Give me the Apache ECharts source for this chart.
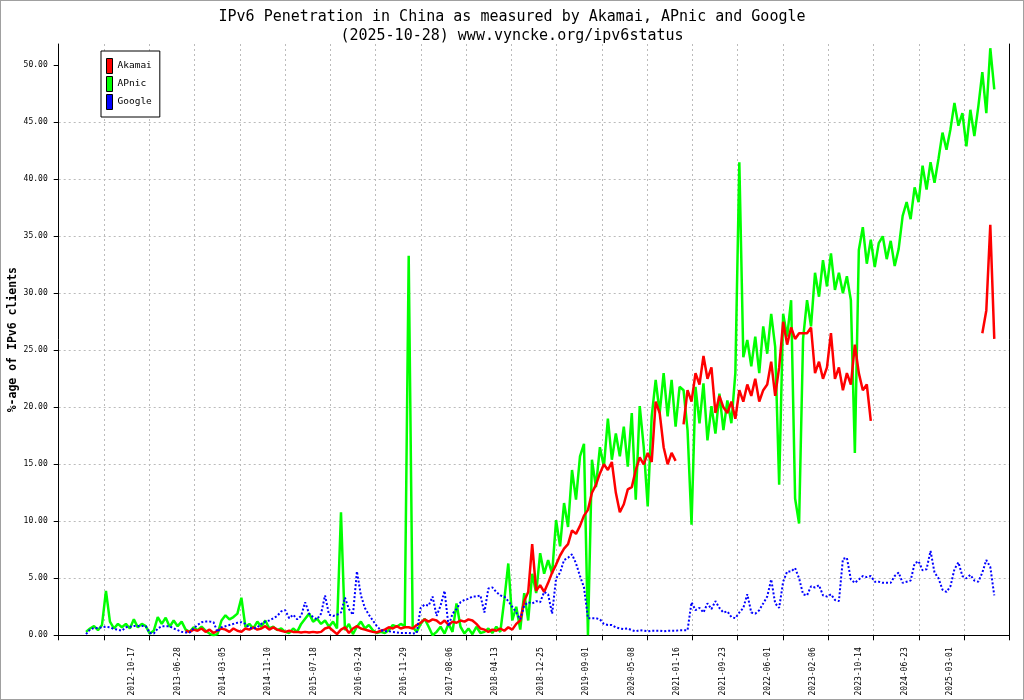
<!DOCTYPE html>
<html>
<head>
<meta charset="utf-8">
<script src="https://cdn.jsdelivr.net/npm/echarts@6/dist/echarts.min.js"></script>
<style>
html, body { margin: 0; padding: 0; background: #ffffff; }
#wrap { position: relative; width: 1024px; height: 700px; }
#chart { width: 1024px; height: 700px; }
#frame { position: absolute; left: 0; top: 0; width: 1024px; height: 700px; box-sizing: border-box; border: 1px solid #a0a0a0; pointer-events: none; }
</style>
</head>
<body>
<div id="wrap"><div id="chart"></div><div id="frame"></div></div>
<script>
// ---------- data ----------
const originDate = '2011-09-09';      // day 0 of the x scale
const xMaxDays = 5250;                // right end of the x scale (days)
const xTickStep = 250;                // days between x ticks / grid lines
const sampleStepDays = 22;            // spacing of the read samples

const tickLabels = ['2012-10-17','2013-06-28','2014-03-05','2014-11-10','2015-07-18','2016-03-24',
  '2016-11-29','2017-08-06','2018-04-13','2018-12-25','2019-09-01','2020-05-08','2021-01-16',
  '2021-09-23','2022-06-01','2023-02-06','2023-10-14','2024-06-23','2025-03-01'];

const yTicks = [0, 5, 10, 15, 20, 25, 30, 35, 40, 45, 50];
const yMax = 51.87;

const apnicStart = '2012-02-07';
const apnic = [
  0.3,0.6,0.8,0.45,0.9, 3.9,1.2,0.6,1.0,0.7, 1.0,0.6,1.4,0.7,1.0, 0.8,0.15,0.4,1.6,1.0, 1.55,0.75,1.3,0.8,1.2,
  0.5,0.3,0.7,0.45,0.75, 0.4,0.15,0.0,0.1,1.3, 1.75,1.4,1.6,1.9,3.3, 0.75,1.0,0.6,1.2,0.75, 1.3,0.6,0.75,0.45,0.6,
  0.3,0.2,0.6,0.3,1.0, 1.45,1.9,1.2,1.45,1.0, 1.3,0.75,1.2,0.6,10.8, 0.45,1.0,0.1,0.75,1.2, 0.6,0.9,0.45,0.2,0.3,
  0.2,0.45,0.9,0.75,1.0, 0.8,33.3,0.75,0.3,1.0, 1.45,0.75,0.0,0.3,0.75, 0.15,1.0,0.3,2.8,0.75, 0.15,0.6,0.1,0.75,0.2,
  0.3,0.6,0.2,0.75,0.3, 3.1,6.3,1.3,2.5,0.5, 3.7,1.3,5.4,3.7,7.2, 5.4,6.6,5.4,10.1,7.8, 11.6,9.5,14.5,11.9,15.7,
  16.8,0.0,15.4,13.0,16.5, 14.8,19.0,15.4,17.7,15.7, 18.3,14.8,19.5,11.9,20.1, 16.5,11.3,19.2,22.4,19.5, 23.0,19.2,22.4,18.3,21.8,
  21.5,18.0,9.7,21.8,18.6, 22.1,17.1,20.1,17.7,21.2, 18.0,20.6,18.6,23.0,41.5, 24.4,25.9,23.6,26.2,23.0, 27.1,24.7,28.2,25.3,13.2,
  28.2,26.2,29.4,12.0,9.8, 26.0,29.4,27.1,31.8,29.7, 32.9,30.6,33.5,30.3,31.8, 30.0,31.5,29.4,16.0,33.8, 35.8,32.6,34.7,32.3,34.4,
  35.0,33.0,34.6,32.4,33.9, 36.8,38.0,36.5,39.3,38.0, 41.2,39.1,41.5,39.7,41.8, 44.1,42.6,44.4,46.7,44.7, 45.8,42.9,46.1,43.8,46.4,
  49.4,45.8,51.5,47.9
];

const akamaiStart = '2013-08-10';
const akamai = [
  0.4,0.3,0.5,0.4,0.6, 0.3,0.5,0.2,0.4,0.6, 0.5,0.3,0.6,0.4,0.3, 0.6,0.5,0.7,0.5,0.6, 0.8,0.5,0.7,0.5,0.4,
  0.3,0.4,0.3,0.3,0.25, 0.3,0.25,0.3,0.25,0.3, 0.6,0.7,0.4,0.1,0.5, 0.7,0.2,0.6,0.8,0.6, 0.5,0.4,0.3,0.25,0.4,
  0.5,0.7,0.6,0.8,0.6, 0.7,0.7,0.6,0.9,1.1, 1.4,1.2,1.4,1.3,1.0, 1.3,0.9,1.2,1.1,1.3, 1.2,1.4,1.3,1.0,0.6,
  0.5,0.3,0.5,0.4,0.6, 0.4,0.7,0.5,1.0,1.3, 3.0,3.8,8.0,3.9,4.4, 3.8,4.6,5.5,6.2,7.0, 7.6,8.0,9.2,8.9,9.6,
  10.5,11.0,12.5,13.2,14.2, 15.0,14.5,15.2,12.5,10.8, 11.5,12.8,13.0,14.5,15.6, 15.0,16.0,15.2,20.5,19.5, 16.5,15.0,16.0,15.3,null,
  18.5,21.5,20.5,23.0,22.0, 24.5,22.5,23.5,19.5,21.0, 20.0,19.5,20.5,19.0,21.5, 20.5,22.0,21.0,22.5,20.5, 21.5,22.0,24.0,21.0,23.5,
  27.5,25.5,27.0,26.0,26.5, 26.5,26.5,27.0,23.0,24.0, 22.5,23.5,26.5,22.5,23.5, 21.5,23.0,22.0,25.5,23.0, 21.5,22.0,18.8,null,null,
  null,null,null,null,null, null,null,null,null,null, null,null,null,null,null, null,null,null,null,null, null,null,null,null,null,
  26.5,28.5,36.0,26.0
];

const googleStart = '2012-02-07';
const google = [
  0.1,0.5,0.65,0.65,0.7, 0.75,0.7,0.55,0.5,0.4, 0.7,0.75,0.82,0.82,0.82, 0.8,0.2,0.15,0.6,0.8, 0.8,0.8,0.6,0.45,0.3,
  0.25,0.25,0.6,0.9,1.15, 1.2,1.2,1.15,0.3,0.7, 0.8,0.9,1.0,1.1,1.15, 1.0,0.65,0.6,0.7,1.0, 1.2,1.3,1.5,1.7,2.1,
  2.2,1.5,1.8,1.4,1.7, 2.9,1.9,1.6,1.4,1.9, 3.5,1.8,1.7,1.8,2.0, 3.3,2.3,1.8,5.6,3.5, 2.4,1.8,1.3,0.8,0.45,
  0.35,0.35,0.3,0.25,0.2, 0.2,0.2,0.15,0.2,2.4, 2.7,2.6,3.4,1.7,2.6, 3.9,0.8,1.9,2.3,2.9, 3.1,3.2,3.4,3.4,3.5,
  2.0,4.1,4.2,3.8,3.5, 3.4,3.0,2.5,2.0,1.4, 2.6,2.9,2.8,3.0,2.9, 3.8,3.6,1.9,5.0,5.5, 6.6,6.8,7.1,6.3,5.2,
  4.2,1.5,1.5,1.5,1.4, 1.0,0.9,0.9,0.7,0.6, 0.55,0.6,0.45,0.35,0.45, 0.4,0.35,0.4,0.4,0.4, 0.35,0.4,0.4,0.4,0.45,
  0.45,0.45,2.9,2.2,2.4, 2.0,2.8,2.3,3.0,2.4, 2.0,2.1,1.6,1.5,2.0, 2.4,3.6,2.0,1.9,2.2, 2.8,3.4,4.9,2.8,2.4,
  4.7,5.6,5.6,5.9,5.0, 3.6,3.5,4.3,4.2,4.4, 3.5,3.4,3.6,3.1,3.0, 6.7,6.8,4.9,4.6,4.9, 5.2,5.1,5.2,4.7,4.7,
  4.6,4.6,4.6,5.2,5.5, 4.6,4.7,4.8,6.3,6.5, 5.7,5.8,7.4,5.5,5.0, 4.0,3.8,4.3,5.8,6.4, 5.2,5.0,5.3,4.8,4.7,
  5.5,6.6,6.0,3.5
];

// ---------- helpers ----------
const MONO = '"DejaVu Sans Mono", "Liberation Mono", monospace';
function dayNum(s) { return Math.round((Date.parse(s) - Date.parse(originDate)) / 86400000); }
function toPairs(start, vals) {
  const d0 = dayNum(start);
  return vals.map((v, i) => [d0 + i * sampleStepDays, v]);
}
const labelDays = tickLabels.map(dayNum);

const chart = echarts.init(document.getElementById('chart'), null, { renderer: 'canvas' });
chart.setOption({
  animation: false,
  backgroundColor: '#ffffff',
  title: {
    text: 'IPv6 Penetration in China as measured by Akamai, APnic and Google\n(2025-10-28) www.vyncke.org/ipv6status',
    left: 'center', top: 3,
    textStyle: { fontFamily: MONO, fontSize: 15, fontWeight: 'normal', color: '#000', lineHeight: 19 }
  },
  legend: {
    data: ['Akamai', 'APnic', 'Google'],
    orient: 'vertical', left: 101, top: 51,
    icon: 'rect', itemWidth: 6, itemHeight: 15, itemGap: 2,
    padding: [7, 8, 7, 5],
    backgroundColor: '#fff', borderColor: '#000', borderWidth: 1, borderRadius: 0,
    itemStyle: { borderColor: '#000', borderWidth: 1 },
    textStyle: { fontFamily: MONO, fontSize: 9.5, color: '#000' }
  },
  grid: { left: 58.7, right: 14.7, top: 44, bottom: 64.7, containLabel: false, outerBoundsMode: 'none' },
  xAxis: {
    type: 'value', min: 0, max: xMaxDays, interval: xTickStep,
    axisLine: { show: true, onZero: false, lineStyle: { color: '#000', width: 1 } },
    axisTick: { show: true, inside: false, length: 5, lineStyle: { color: '#000' } },
    splitLine: { show: true, lineStyle: { color: '#bbbbbb', type: [2, 3], width: 1 } },
    axisLabel: {
      show: true, customValues: labelDays, rotate: 90, margin: 12,
      fontFamily: MONO, fontSize: 8, color: '#000',
      formatter: function (v) {
        const idx = labelDays.indexOf(Math.round(v));
        return idx >= 0 ? tickLabels[idx] : '';
      }
    }
  },
  yAxis: [{
    type: 'value', min: 0, max: yMax, interval: 5,
    name: '%-age of IPv6 clients', nameLocation: 'middle', nameGap: 40, nameRotate: 90,
    nameMoveOverlap: false,
    nameTextStyle: { fontFamily: MONO, fontWeight: 'bold', fontSize: 11.5, color: '#000' },
    axisLine: { show: true, lineStyle: { color: '#000', width: 1 } },
    axisTick: { show: true, length: 5, customValues: yTicks, lineStyle: { color: '#000' } },
    axisLabel: { customValues: yTicks, margin: 11, fontFamily: MONO, fontSize: 8, color: '#000',
      formatter: function (v) { return Number(v).toFixed(2); } },
    splitLine: { show: true, showMaxLine: false, showMinLine: false, lineStyle: { color: '#bbbbbb', type: [2, 3], width: 1 } }
  }, {
    type: 'value', position: 'right', min: 0, max: yMax,
    axisLine: { show: true, lineStyle: { color: '#000', width: 1 } },
    axisTick: { show: false }, axisLabel: { show: false }, splitLine: { show: false }
  }],
  series: [
    { name: 'APnic', type: 'line', z: 2, data: toPairs(apnicStart, apnic), showSymbol: false, symbol: 'none',
      lineStyle: { color: '#00ff00', width: 2.5 }, itemStyle: { color: '#00ff00' } },
    { name: 'Akamai', type: 'line', z: 3, data: toPairs(akamaiStart, akamai), showSymbol: false, symbol: 'none',
      connectNulls: false,
      lineStyle: { color: '#ff0000', width: 2.5 }, itemStyle: { color: '#ff0000' } },
    { name: 'Google', type: 'line', z: 4, data: toPairs(googleStart, google), showSymbol: false, symbol: 'none',
      lineStyle: { color: '#0000ff', width: 2, type: [2, 2] }, itemStyle: { color: '#0000ff' } }
  ]
});
</script>
</body>
</html>
